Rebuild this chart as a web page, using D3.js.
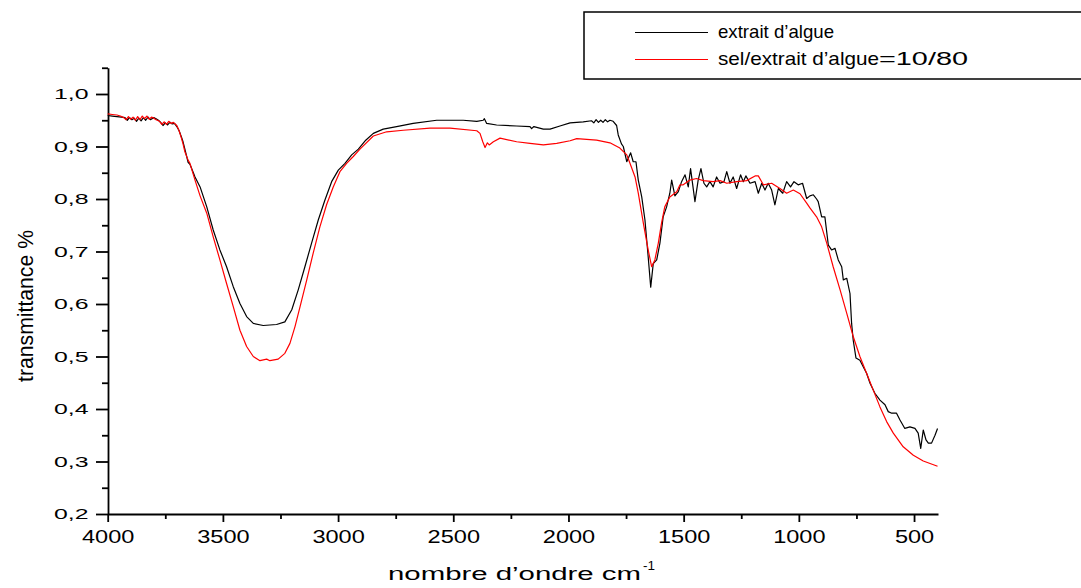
<!DOCTYPE html>
<html><head><meta charset="utf-8">
<script src="https://cdn.jsdelivr.net/npm/d3@7"></script>
<style>body{margin:0;background:#fff} svg{display:block} text{font-family:Arial,"Liberation Sans",sans-serif;fill:#000}</style>
</head><body><svg id="c" width="1081" height="588"></svg>
<script>
const xTickValues = [4000, 3500, 3000, 2500, 2000, 1500, 1000, 500];
const xMinorValues = [3750, 3250, 2750, 2250, 1750, 1250, 750];
const yTickValues = [0.2, 0.3, 0.4, 0.5, 0.6, 0.7, 0.8, 0.9, 1.0];
const yMinorValues = [0.25, 0.35, 0.45, 0.55, 0.65, 0.75, 0.85, 0.95, 1.05];
const seriesNames = ["extrait d\u2019algue", "sel/extrait d\u2019algue=10/80"];
const xTitle = "nombre d\u2019ondre cm";
const xTitleSup = "-1";
const yTitle = "transmittance %";

const extraitWn = [4000,3980,3960,3940,3925,3915,3905,3895,3885,3875,3865,3855,3845,3835,3825,3815,3800,3790,3780,3770,3760,3750,3740,3730,3720,3710,3700,3690,3680,3673,3665,3651,3643,3630,3621,3599,3570,3542,3513,3484,3455,3426,3397,3368,3325,3267,3231,3201,3173,3144,3115,3086,3057,3028,2999,2970,2941,2912,2880,2847,2804,2746,2674,2572,2457,2398,2370,2365,2355,2312,2225,2167,2160,2150,2109,2080,2037,1993,1936,1900,1890,1880,1870,1860,1850,1840,1830,1820,1806,1791,1784,1770,1762,1747,1730,1719,1707,1697,1682,1668,1654,1643,1632,1617,1603,1589,1574,1560,1552,1538,1523,1509,1494,1480,1470,1451,1437,1425,1412,1400,1386,1372,1357,1342,1325,1313,1299,1285,1270,1253,1241,1230,1212,1190,1176,1161,1147,1133,1118,1104,1089,1070,1053,1036,1021,1003,984,966,952,937,923,916,901,887,872,858,843,829,814,807,792,778,771,764,752,735,720,706,691,670,648,626,612,597,576,561,540,518,496,482,471,460,448,438,424,409,398];
const extraitT = [0.959,0.958,0.957,0.956,0.955,0.950,0.955,0.951,0.954,0.948,0.954,0.949,0.955,0.950,0.956,0.951,0.955,0.953,0.950,0.946,0.940,0.945,0.941,0.946,0.943,0.944,0.938,0.930,0.918,0.909,0.895,0.870,0.866,0.852,0.842,0.823,0.785,0.741,0.703,0.671,0.633,0.601,0.576,0.563,0.559,0.561,0.566,0.589,0.627,0.671,0.716,0.760,0.798,0.833,0.855,0.868,0.884,0.895,0.912,0.925,0.933,0.938,0.944,0.950,0.950,0.948,0.950,0.953,0.944,0.941,0.939,0.938,0.934,0.938,0.933,0.933,0.939,0.945,0.947,0.949,0.945,0.951,0.946,0.950,0.946,0.951,0.947,0.950,0.948,0.940,0.922,0.905,0.900,0.871,0.888,0.871,0.871,0.836,0.804,0.760,0.690,0.632,0.677,0.684,0.716,0.766,0.785,0.811,0.836,0.806,0.814,0.833,0.846,0.823,0.858,0.795,0.836,0.858,0.830,0.823,0.833,0.823,0.842,0.830,0.833,0.852,0.830,0.842,0.820,0.846,0.833,0.844,0.830,0.833,0.811,0.830,0.817,0.830,0.817,0.789,0.820,0.811,0.833,0.823,0.833,0.827,0.830,0.801,0.806,0.808,0.800,0.795,0.766,0.766,0.712,0.703,0.706,0.684,0.671,0.646,0.649,0.620,0.563,0.531,0.497,0.493,0.480,0.468,0.449,0.430,0.417,0.408,0.395,0.392,0.392,0.379,0.363,0.366,0.363,0.354,0.325,0.360,0.341,0.335,0.335,0.350,0.363];

const selWn = [4000,3980,3960,3945,3930,3920,3910,3900,3890,3880,3870,3860,3850,3840,3830,3820,3810,3800,3790,3775,3765,3755,3745,3735,3725,3715,3700,3690,3680,3673,3665,3651,3643,3621,3599,3570,3542,3513,3484,3455,3426,3397,3368,3339,3310,3296,3260,3231,3209,3187,3165,3136,3108,3079,3050,3021,2992,2963,2934,2905,2847,2789,2717,2601,2514,2398,2384,2372,2362,2352,2344,2326,2297,2225,2167,2109,2051,1993,1964,1878,1820,1777,1747,1733,1711,1697,1675,1654,1639,1625,1610,1596,1582,1560,1530,1516,1502,1473,1444,1415,1372,1342,1313,1270,1227,1190,1176,1154,1118,1082,1053,1024,995,966,952,923,901,879,851,821,792,764,735,706,677,648,619,590,547,503,460,398];
const selT = [0.962,0.961,0.960,0.958,0.955,0.951,0.957,0.952,0.956,0.950,0.957,0.951,0.958,0.953,0.958,0.952,0.956,0.954,0.951,0.948,0.942,0.947,0.942,0.948,0.944,0.946,0.940,0.930,0.916,0.905,0.890,0.874,0.868,0.836,0.806,0.773,0.728,0.684,0.639,0.595,0.550,0.519,0.500,0.492,0.495,0.492,0.495,0.506,0.525,0.557,0.595,0.646,0.697,0.747,0.789,0.823,0.852,0.868,0.881,0.895,0.920,0.928,0.931,0.935,0.935,0.930,0.925,0.909,0.898,0.907,0.903,0.909,0.916,0.909,0.906,0.903,0.906,0.911,0.915,0.912,0.907,0.897,0.884,0.868,0.842,0.811,0.754,0.703,0.671,0.684,0.716,0.754,0.785,0.804,0.814,0.827,0.827,0.836,0.839,0.835,0.833,0.835,0.830,0.833,0.835,0.844,0.844,0.827,0.830,0.820,0.811,0.817,0.810,0.792,0.783,0.766,0.747,0.716,0.671,0.627,0.582,0.538,0.500,0.468,0.436,0.404,0.376,0.354,0.328,0.312,0.301,0.291];

const svg = d3.select("#c");
const x = d3.scaleLinear().domain([4000, 396]).range([107.7, 938]);
const y = d3.scaleLinear().domain([0.2, 1.05]).range([514, 67.75]);
const fmtY = d => d.toFixed(1).replace(".", ",");
const fmtX = d => String(d);

// minor ticks
svg.append("g").attr("transform", "translate(0,514)")
  .call(d3.axisBottom(x).tickValues(xMinorValues).tickSize(5).tickSizeOuter(0).tickFormat(""))
  .call(g => g.select(".domain").remove())
  .call(g => g.selectAll("line").attr("stroke-width", 1.8));
svg.append("g").attr("transform", "translate(108,0)")
  .call(d3.axisLeft(y).tickValues(yMinorValues).tickSize(6).tickSizeOuter(0).tickFormat(""))
  .call(g => g.select(".domain").remove())
  .call(g => g.selectAll("line").attr("stroke-width", 1.8));

// major axes
const gx = svg.append("g").attr("transform", "translate(0,514)")
  .call(d3.axisBottom(x).tickValues(xTickValues).tickSize(8).tickSizeOuter(0).tickFormat(fmtX));
gx.select(".domain").attr("stroke-width", 1.8);
gx.selectAll("line").attr("stroke-width", 1.8);
gx.selectAll("text").attr("y", 29).attr("dy", null).attr("font-size", 17.5)
  .attr("font-family", "Arial, 'Liberation Sans', sans-serif")
  .attr("textLength", function() { return this.textContent.length * 13.1; })
  .attr("lengthAdjust", "spacingAndGlyphs");

const gy = svg.append("g").attr("transform", "translate(108,0)")
  .call(d3.axisLeft(y).tickValues(yTickValues).tickSize(12).tickSizeOuter(0).tickFormat(fmtY));
gy.select(".domain").attr("stroke-width", 1.8);
gy.selectAll("line").attr("stroke-width", 1.8);
gy.selectAll("text").attr("x", -19.5).attr("dy", "0.33em").attr("font-size", 15)
  .attr("font-family", "Arial, 'Liberation Sans', sans-serif")
  .attr("textLength", 34.5).attr("lengthAdjust", "spacingAndGlyphs");

// titles
svg.append("text").attr("x", 388).attr("y", 580).attr("font-size", 18)
  .attr("textLength", 253).attr("lengthAdjust", "spacingAndGlyphs").text(xTitle);
svg.append("text").attr("x", 643).attr("y", 570).attr("font-size", 12)
  .attr("textLength", 12).attr("lengthAdjust", "spacingAndGlyphs").text(xTitleSup);
svg.append("text").attr("transform", "translate(33,306) rotate(-90)")
  .attr("text-anchor", "middle").attr("font-size", 22)
  .attr("textLength", 152).attr("lengthAdjust", "spacingAndGlyphs").text(yTitle);

// series
const line = d3.line().x(d => x(d[0])).y(d => y(d[1]));
const extrait = extraitWn.map((w, i) => [w, extraitT[i]]);
const sel = selWn.map((w, i) => [w, selT[i]]);
svg.append("path").datum(extrait).attr("d", line).attr("fill", "none")
  .attr("stroke", "#000").attr("stroke-width", 1.2).attr("stroke-linejoin", "round");
svg.append("path").datum(sel).attr("d", line).attr("fill", "none")
  .attr("stroke", "#ff0000").attr("stroke-width", 1.2).attr("stroke-linejoin", "round");

// legend
const lg = svg.append("g");
lg.append("rect").attr("x", 584).attr("y", 12).attr("width", 520).attr("height", 67)
  .attr("fill", "#fff").attr("stroke", "#000").attr("stroke-width", 1.5);
const legColors = ["#000", "#ff0000"];
const legY = [32.5, 59.5];
seriesNames.forEach((n, i) => {
  lg.append("line").attr("x1", 635).attr("x2", 708).attr("y1", legY[i]).attr("y2", legY[i])
    .attr("stroke", legColors[i]).attr("stroke-width", 1.2);
  const t = lg.append("text").attr("x", 718).attr("y", legY[i] + 5).attr("font-size", 18.5);
  const eq = n.indexOf("=");
  if (eq < 0) {
    t.attr("textLength", 116).attr("lengthAdjust", "spacingAndGlyphs").text(n);
  } else {
    t.append("tspan").attr("textLength", 161).attr("lengthAdjust", "spacingAndGlyphs").text(n.slice(0, eq));
    t.append("tspan").attr("x", 879).attr("textLength", 89).attr("lengthAdjust", "spacingAndGlyphs").text(n.slice(eq));
  }
});
</script></body></html>
